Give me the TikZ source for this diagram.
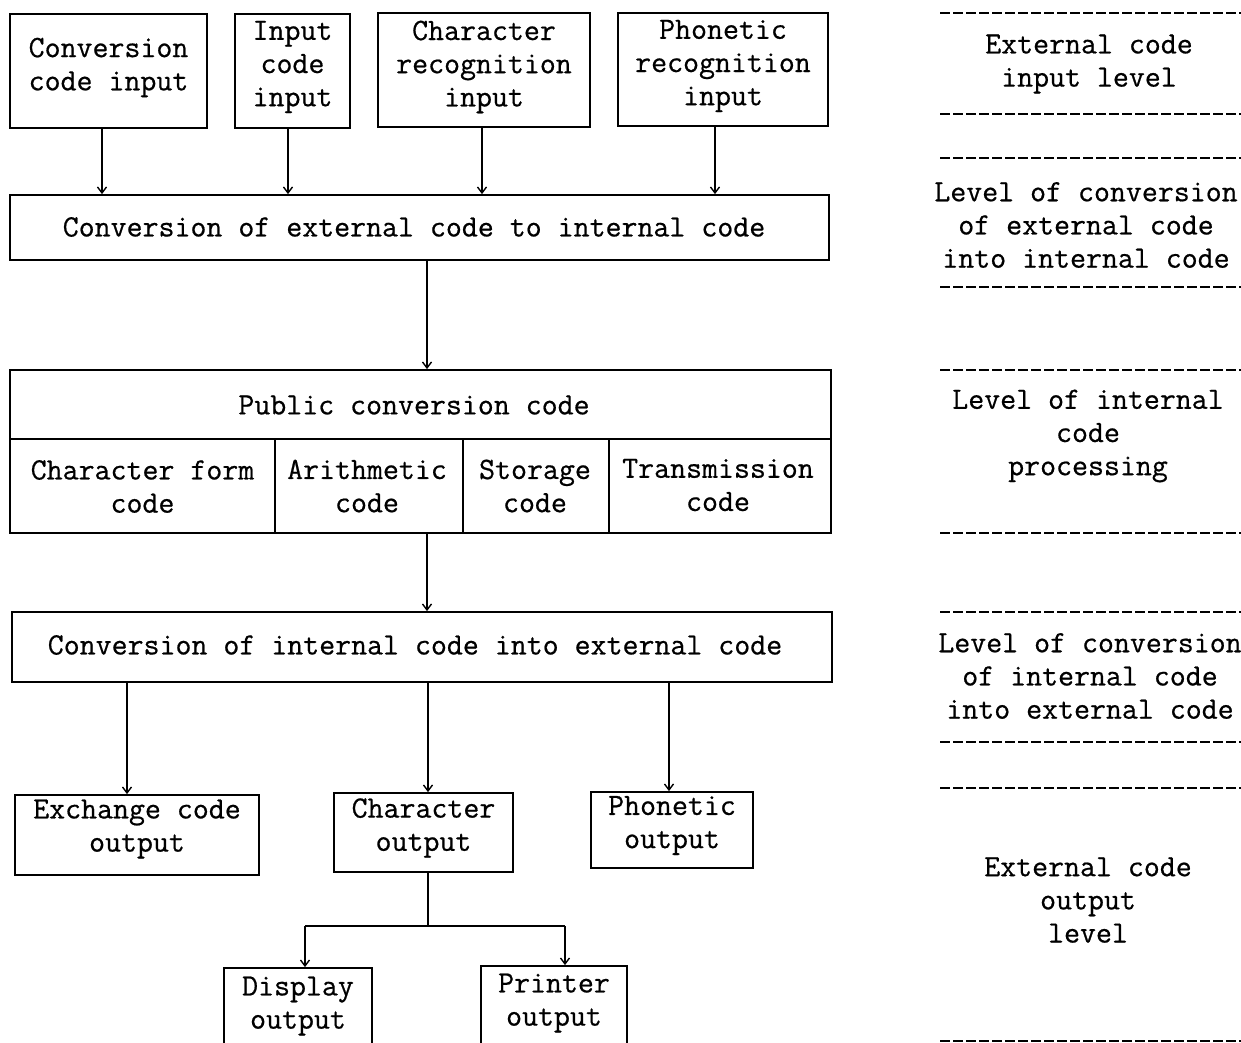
\documentclass[tikz,border=0pt]{standalone}
\usepackage{fontspec}
\usetikzlibrary{arrows.meta}
\newfontfamily\typew[FakeBold=0.6]{Latin Modern Mono}
\newcommand\tx{\typew\fontsize{15.5}{16.6}\selectfont}
\tikzset{
 box/.style={draw, line width=0.9pt, inner sep=0pt},
 txt/.style={align=center, inner sep=0pt, font=\tx},
 conn/.style={line width=0.7pt},
 arr/.style={line width=0.7pt, -{Straight Barb[length=3pt,width=4.5pt]}},
 sep/.style={line width=1pt, dash pattern=on 5pt off 1.5pt},
}
% name, x1, y1, x2, y2, text centre x, text centre y, text
\newcommand\mybox[8]{%
  \node[box, minimum width={(#4-#2)*0.5pt}, minimum height={(#5-#3)*0.5pt}] (#1) at ({(#2+#4)/2},{(#3+#5)/2}) {};
  \node[txt] (#1t) at (#6,#7) {#8};
}
\begin{document}
\begin{tikzpicture}[x=0.5pt,y=-0.5pt]
\useasboundingbox (0,0) rectangle (1241,1043);
\clip (0,0) rectangle (1241,1043);

% input level
\mybox{ci}{10}{14}{207}{128}{108.5}{67.5}{Conversion\\code input}
\mybox{ic}{235}{14}{350}{128}{292.5}{67}{Input\\code\\input}
\mybox{cr}{378}{13}{590}{127}{484}{67}{Character\\recognition\\input}
\mybox{pr}{618}{13}{828}{126}{723}{66}{Phonetic\\recognition\\input}
% conversion ext -> int
\mybox{ext}{10}{195}{829}{260}{414}{227}{Conversion of external code to internal code}
% public conversion code block
\node[box, minimum width={821*0.5pt}, minimum height={163*0.5pt}] (pub) at (420.5,451.5) {};
\node[txt] (pubt) at (414,405) {Public conversion code};
\mybox{cf}{10}{439}{275}{533}{142.5}{486.5}{Character form\\code}
\mybox{ar}{275}{439}{463}{533}{367}{486}{Arithmetic\\code}
\mybox{st}{463}{439}{609}{533}{535}{486}{Storage\\code}
\mybox{tr}{609}{439}{831}{533}{718}{485}{Transmission\\code}
% conversion int -> ext
\mybox{int}{12}{612}{832}{682}{415}{645}{Conversion of internal code into external code}
% outputs
\mybox{exo}{15}{795}{259}{875}{137}{829}{Exchange code\\output}
\mybox{cho}{334}{793}{513}{872}{423.5}{828}{Character\\output}
\mybox{pho}{591}{792}{753}{868}{672}{825.5}{Phonetic\\output}
\mybox{dis}{224}{968}{372}{1070}{298}{1006}{Display\\output}
\mybox{prn}{481}{966}{627}{1070}{554}{1003}{Printer\\output}

% connectors
\draw[arr] ([xshift=-3.25pt]ci.south) -- ([xshift=-3.25pt]ci.south |- ext.north);
\draw[arr] ([xshift=-2.25pt]ic.south) -- ([xshift=-2.25pt]ic.south |- ext.north);
\draw[arr] ([xshift=-1pt]cr.south) -- ([xshift=-1pt]cr.south |- ext.north);
\draw[arr] ([xshift=-4pt]pr.south) -- ([xshift=-4pt]pr.south |- ext.north);
\draw[arr] ([xshift=3.75pt]ext.south) -- ([xshift=3.75pt]ext.south |- pub.north);
\draw[arr] ([xshift=3.25pt]pub.south) -- ([xshift=3.25pt]pub.south |- int.north);
\draw[arr] ([xshift=-5pt]exo.north |- int.south) -- ([xshift=-5pt]exo.north);
\draw[arr] ([xshift=2.25pt]cho.north |- int.south) -- ([xshift=2.25pt]cho.north);
\draw[arr] ([xshift=-1.5pt]pho.north |- int.south) -- ([xshift=-1.5pt]pho.north);
\coordinate (bj) at (428,926);
\coordinate (bl) at (305,926);
\coordinate (br) at (565,926);
\draw[conn] ([xshift=2.25pt]cho.south) -- (bj);
\draw[conn] (bl) -- (br);
\draw[arr] (bl) -- (bl |- dis.north);
\draw[arr] (br) -- (br |- prn.north);

% level column
\foreach \yy in {13,114,158,287,370,533,612,742,788,1041}
  \draw[sep] (940,\yy) -- (1241,\yy);
\node[txt] (l1) at (1089,64) {External code\\input level};
\node[txt] (l2) at (1086,225) {Level of conversion\\of external code\\into internal code};
\node[txt] (l3) at (1088,436) {Level of internal\\code\\processing};
\node[txt] (l4) at (1090,676) {Level of conversion\\of internal code\\into external code};
\node[txt] (l5) at (1088,900) {External code\\output\\level};
\end{tikzpicture}
\end{document}
